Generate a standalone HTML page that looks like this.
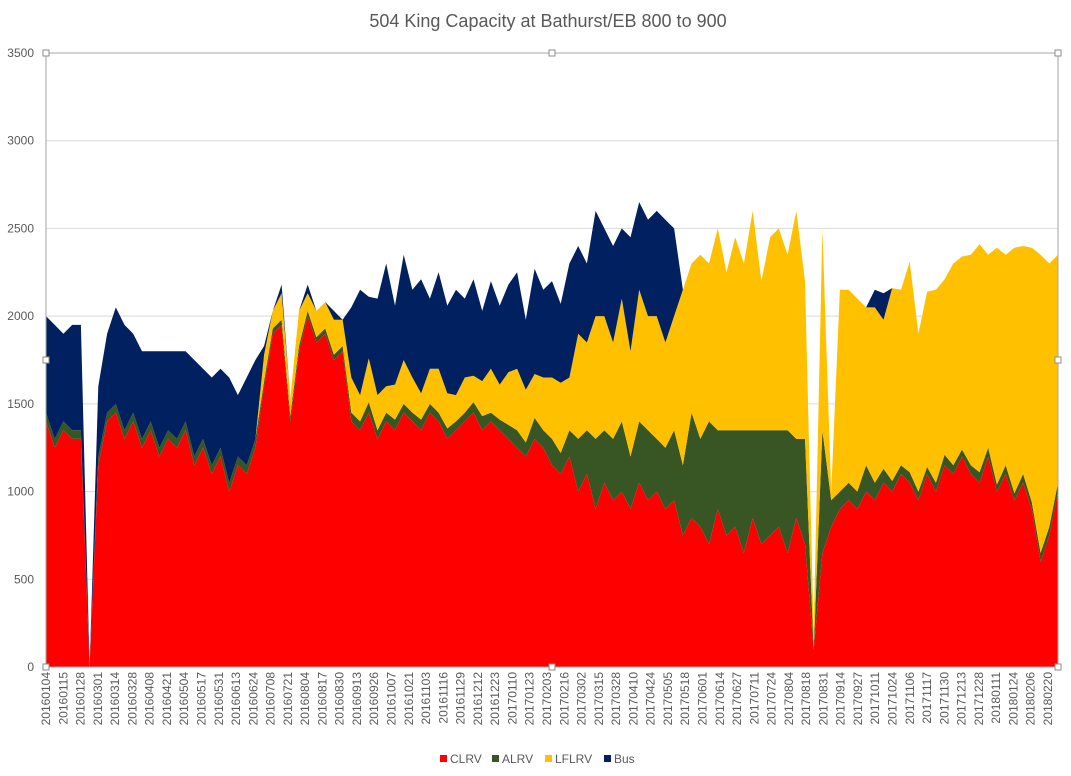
<!DOCTYPE html>
<html><head><meta charset="utf-8"><style>
body{margin:0;background:#fff;font-family:"Liberation Sans",sans-serif}
svg{display:block}
</style></head><body>
<svg id="chart" width="1071" height="776">
<text x="548" y="27" text-anchor="middle" font-size="18" fill="#595959">504 King Capacity at Bathurst/EB 800 to 900</text>
<g id="grid"></g>
<g id="areas"></g>
<g id="yaxis"></g>
<g id="xaxis"></g>
<g id="legend"></g>
</svg>
<script>
const yTicks=[0,500,1000,1500,2000,2500,3000,3500];
const xLabels=["20160104","20160115","20160128","20160301","20160314","20160328","20160408","20160421","20160504","20160517","20160531","20160613","20160624","20160708","20160721","20160804","20160817","20160830","20160913","20160926","20161007","20161021","20161103","20161116","20161129","20161212","20161223","20170110","20170123","20170203","20170216","20170302","20170315","20170328","20170410","20170424","20170505","20170518","20170601","20170614","20170627","20170711","20170724","20170804","20170818","20170831","20170914","20170927","20171011","20171024","20171106","20171117","20171130","20171213","20171228","20180111","20180124","20180206","20180220"];
const seriesNames=["CLRV","ALRV","LFLRV","Bus"];
const clrv=[
1400,1250,1350,1300,1300,
0,
1150,1400,1450,1300,1400,1250,1350,1200,1300,1250,1350,1150,1250,1100,1200,1000,1150,1100,1250,
1600,1900,1950,1400,1800,2000,1850,1900,1750,1800,
1400,1350,1450,1300,1400,1350,1450,1400,1350,1450,1400,1300,1350,1400,1450,1350,1400,1350,1300,1250,1200,1300,1250,1150,1100,1200,
1000,1100,900,1050,950,1000,900,1050,950,1000,900,950,
750,850,800,700,900,750,800,650,850,700,750,800,650,850,700,100,650,800,900,950,
900,1000,950,1050,1000,1100,1050,950,1100,1000,1150,1100,1200,1100,1050,1200,1000,1100,950,1050,900,600,750,1000];
const alrv=[
50,50,50,50,50,
0,
50,50,50,50,50,50,50,50,50,50,50,50,50,50,50,50,50,50,50,
30,30,30,30,30,30,30,30,30,30,
50,50,60,50,50,60,50,50,60,50,50,60,50,50,60,80,50,60,80,100,80,120,100,150,120,150,
300,250,400,300,350,400,300,350,400,300,350,400,
400,600,500,700,450,600,550,700,500,650,600,550,700,450,600,0,700,150,100,100,
100,150,100,80,60,50,60,50,40,50,60,50,40,50,60,50,40,50,40,50,40,50,50,50];
const lflrv=[
0,0,0,0,0,
0,
0,0,0,0,0,0,0,0,0,0,0,0,0,0,0,0,0,0,0,
150,100,150,100,200,100,150,150,200,150,
200,150,250,200,150,200,250,200,150,200,250,200,150,200,150,200,250,200,300,350,300,250,300,350,400,300,
600,500,700,650,550,700,600,750,650,700,600,650,
1000,850,1050,900,1150,900,1100,950,1250,850,1100,1150,1000,1300,900,100,1150,50,1150,1100,
1100,900,1000,850,1100,1000,1200,900,1000,1100,1000,1150,1100,1200,1300,1100,1350,1200,1400,1300,1450,1700,1500,1300];
const bus=[
550,650,500,600,600,
0,
400,450,550,600,450,500,400,550,450,500,400,550,400,500,450,600,350,500,450,
50,0,50,0,0,50,0,0,50,0,
400,600,350,550,700,450,600,500,650,400,550,500,600,450,550,400,500,450,500,550,400,600,500,550,450,650,
500,450,600,500,550,400,650,500,550,600,700,500,
0,0,0,0,0,0,0,0,0,0,0,0,0,0,0,0,0,0,0,0,
0,0,100,150,0,0,0,0,0,0,0,0,0,0,0,0,0,0,0,0,0,0,0,0];
const colors=["#FF0000","#375623","#FFC000","#002060"];
const NS="http://www.w3.org/2000/svg";
const L=46,R=1058,T=53,B=667,YMAX=3500;
const ys=v=>B-(v/YMAX)*(B-T);
const xs=i=>L+i*(R-L)/(clrv.length-1);
const xl=i=>L+i*(1048-L)/(xLabels.length-1);
function mk(tag,attrs,parent){const e=document.createElementNS(NS,tag);for(const k in attrs)e.setAttribute(k,attrs[k]);parent.appendChild(e);return e;}
const grid=document.getElementById('grid'),yaxis=document.getElementById('yaxis');
yTicks.forEach(t=>{
  const ln=mk('line',{x1:L,x2:R,y1:ys(t),y2:ys(t),stroke:'#d9d9d9','stroke-width':1},grid);
  
  
  const tx=mk('text',{x:34,y:ys(t)+4,'text-anchor':'end','font-size':12,fill:'#595959'},yaxis);
  tx.textContent=t;
  
  
});
const areas=document.getElementById('areas');
const layers=[clrv,alrv,lflrv,bus];
const N=clrv.length;
let base=clrv.map(()=>0);
layers.forEach((arr,li)=>{
  const top=base.map((b,i)=>b+(arr[i]||0));
  let d='M'+xs(0)+','+ys(top[0]);
  for(let i=1;i<N;i++)d+=' L'+xs(i).toFixed(1)+','+ys(top[i]).toFixed(1);
  for(let i=N-1;i>=0;i--)d+=' L'+xs(i).toFixed(1)+','+ys(base[i]).toFixed(1);
  d+='Z';
  const p=mk('path',{d:d,fill:colors[li],stroke:'none'},areas);
  
  
  base=top;
});
const svg=document.getElementById('chart');
const bd=mk('rect',{x:L,y:T,width:R-L,height:B-T,fill:'none',stroke:'#a6a6a6','stroke-width':1},svg);


[[L,T],[(L+R)/2,T],[R,T],[L,(T+B)/2],[R,(T+B)/2],[L,B],[(L+R)/2,B],[R,B]].forEach(p=>{
  const h=mk('rect',{x:p[0]-3,y:p[1]-3,width:6,height:6,fill:'#fff',stroke:'#8c8c8c'},svg);
  
  
});
const xaxis=document.getElementById('xaxis');
xLabels.forEach((s,i)=>{
  const x=xl(i);
  const t=mk('text',{x:0,y:0,transform:'translate('+(x+4)+',672) rotate(-90)','text-anchor':'end','font-size':12,fill:'#595959'},xaxis);
  t.textContent=s;
  
  
});
const legend=document.getElementById('legend');
const lx=[440,492,545,604];
seriesNames.forEach((n,i)=>{
  const r=mk('rect',{x:lx[i],y:755,width:7,height:7,fill:colors[i]},legend);
  
  
  const t=mk('text',{x:lx[i]+10,y:763,'font-size':12,fill:'#595959'},legend);
  t.textContent=n;
  
  
});
</script>
</body></html>
